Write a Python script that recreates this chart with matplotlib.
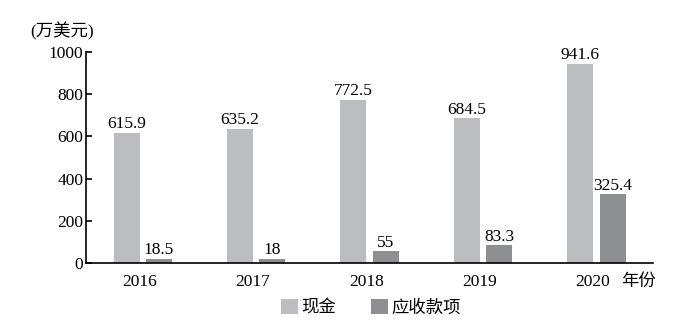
import numpy as np
import matplotlib.pyplot as plt

plt.rcParams['font.family'] = ['Liberation Serif', 'Noto Sans CJK SC']

years = ['2016', '2017', '2018', '2019', '2020']
cash = [615.9, 635.2, 772.5, 684.5, 941.6]
receivables = [18.5, 18, 55, 83.3, 325.4]
cash_labels = ['615.9', '635.2', '772.5', '684.5', '941.6']
recv_labels = ['18.5', '18', '55', '83.3', '325.4']

fig = plt.figure(figsize=(7, 3.24), dpi=100)
ax = fig.add_axes([0.123, 0.188, 0.81, 0.652])

x = np.arange(len(years))
w = 0.23
off = 0.143
b1 = ax.bar(x - off, cash, w, color='#bcbdc0', label='现金')
b2 = ax.bar(x + off, receivables, w, color='#8e8f92', label='应收款项')

for rect, lab in zip(b1, cash_labels):
    ax.text(rect.get_x() + rect.get_width() / 2, rect.get_height() + 4, lab,
            ha='center', va='bottom', fontsize=12.5)
for rect, lab in zip(b2, recv_labels):
    ax.text(rect.get_x() + rect.get_width() / 2, rect.get_height() + 4, lab,
            ha='center', va='bottom', fontsize=12.5)

ax.set_xlim(-0.5, 4.5)
ax.set_ylim(0, 1000)
ax.set_yticks([0, 200, 400, 600, 800, 1000])
ax.set_xticks(x - 0.03)
ax.set_xticklabels(years)
ax.tick_params(axis='y', direction='in', length=4, width=1.2, labelsize=12.5, pad=2)
ax.tick_params(axis='x', length=0, labelsize=12.5, pad=8)

for side in ['top', 'right']:
    ax.spines[side].set_visible(False)
for side in ['left', 'bottom']:
    ax.spines[side].set_linewidth(1.2)

fig.text(0.043, 0.905, '(万美元)', fontsize=12.5, ha='left', va='center')
fig.text(0.888, 0.13, '年份', fontsize=12.5, ha='left', va='center')

fig.legend(handles=[b1, b2], loc='center', bbox_to_anchor=(0.53, 0.05), ncol=2,
           frameon=False, fontsize=12.5, handlelength=1.0, handleheight=1.0,
           handletextpad=0.2, columnspacing=2.0)

fig.savefig('out.png', dpi=100)
